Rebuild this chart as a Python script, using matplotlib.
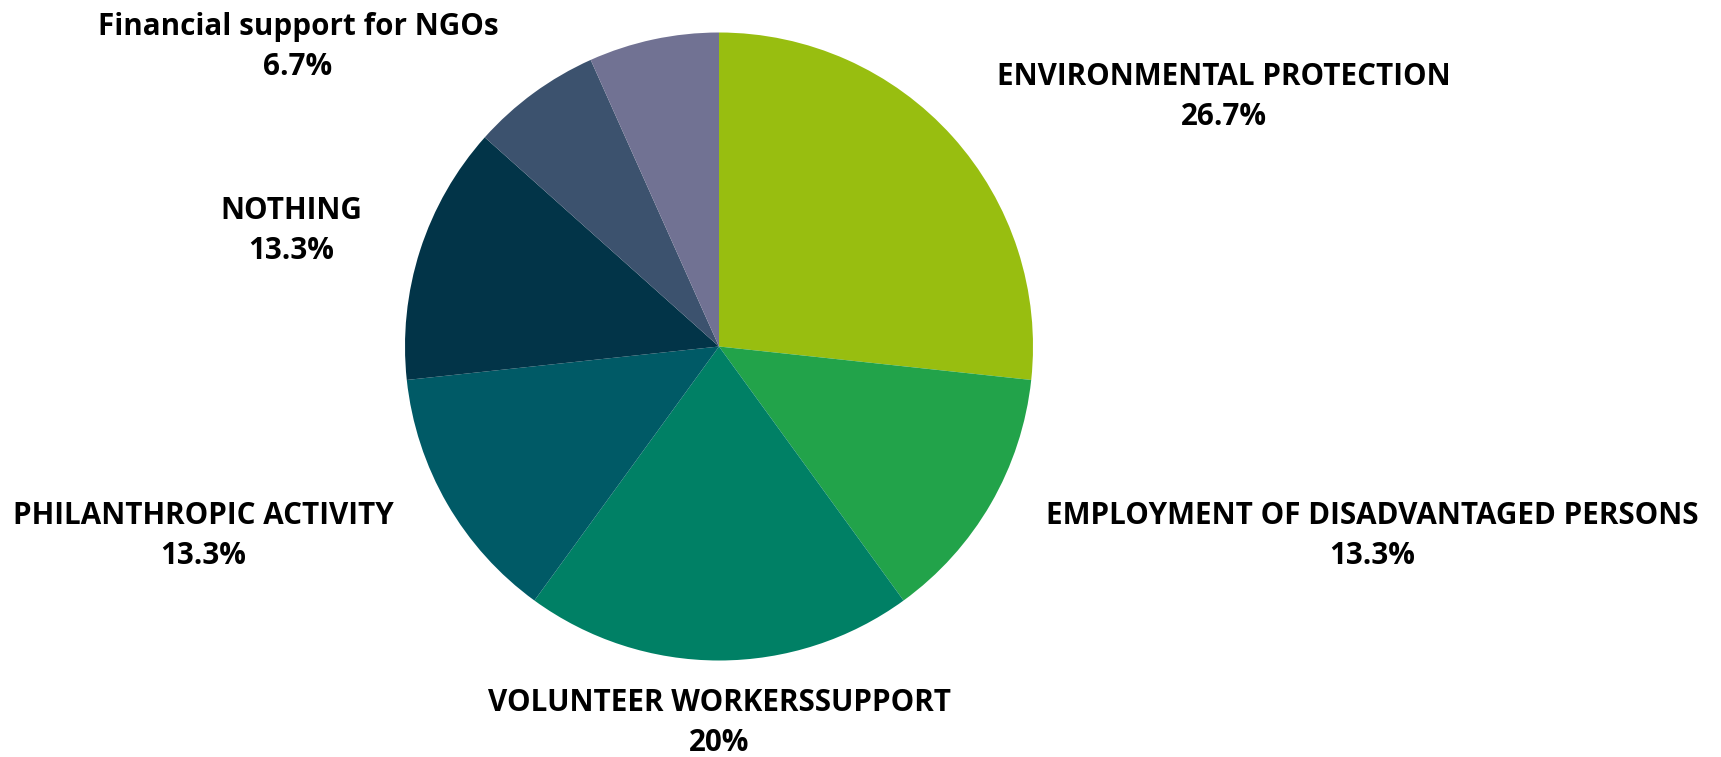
import matplotlib
matplotlib.use("Agg")
import matplotlib.pyplot as plt

# Share of activities
categories = [
    "ENVIRONMENTAL PROTECTION",
    "EMPLOYMENT OF DISADVANTAGED PERSONS",
    "VOLUNTEER WORKERSSUPPORT",
    "PHILANTHROPIC ACTIVITY",
    "NOTHING",
    "Financial support for NGOs",
    "",
]
values = [26.7, 13.3, 20, 13.3, 13.3, 6.7, 6.7]
colors = ["#98BE10", "#22A34A", "#008065", "#005A66", "#023448", "#3C526E", "#717293"]

# label anchor points (figure pixels, origin top-left)
label_pos = [
    (1224, 97),
    (1372, 536),
    (719, 723),
    (203, 536),
    (291, 231),
    (298, 47),
    None,
]

W, H = 1721, 757
fig = plt.figure(figsize=(W / 100, H / 100), dpi=100)
ax = fig.add_axes([0, 0, 1, 1])

ax.pie(
    values,
    colors=colors,
    startangle=90,
    counterclock=False,
    center=(719, H - 346.5),
    radius=314,
    wedgeprops=dict(linewidth=0),
    frame=True,
)
ax.set_xlim(0, W)
ax.set_ylim(0, H)
ax.axis("off")

for name, val, pos in zip(categories, values, label_pos):
    if pos is None or not name:
        continue
    ax.text(
        pos[0], H - pos[1], f"{name}\n{val:g}%",
        ha="center", va="center", ma="center",
        fontsize=21.3, fontweight="bold", family="Open Sans",
        color="#000000", linespacing=1.47,
    )

fig.savefig("out.png", dpi=100, facecolor="white")
